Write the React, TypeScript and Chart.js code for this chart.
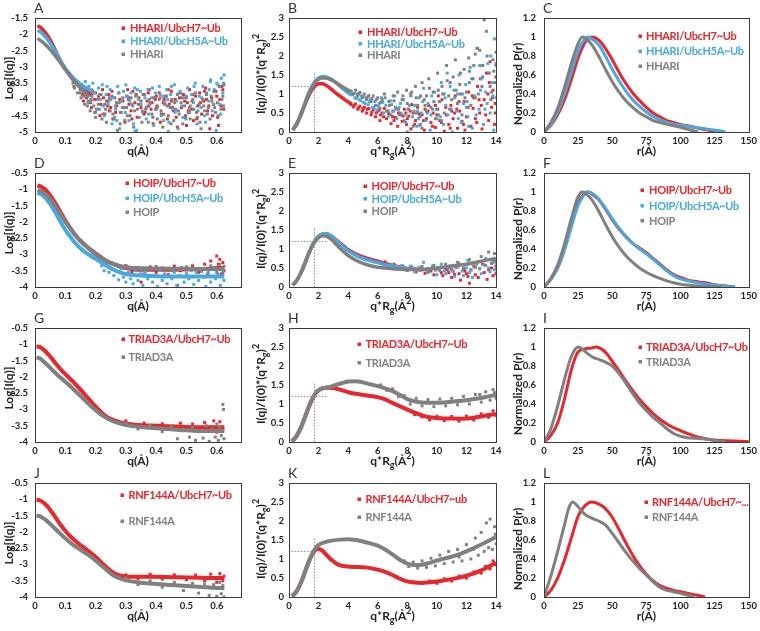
import React, { useEffect, useRef } from "react";
import { Chart, registerables } from "chart.js";
Chart.register(...registerables);

const FAMILY = "Lato, 'Open Sans', sans-serif";
const RED = "#e8262b";
const BLUE = "#47a9e1";
const GRAY = "#808080";
const INK = "#222222";

type P = number[][];

// ---------- Panel A : HHARI log I(q) ----------
const A_labels = ["HHARI/UbcH7~Ub", "HHARI/UbcH5A~Ub", "HHARI"];
const A_red: P = [[0.008,-1.74],[0.02,-1.8],[0.03,-1.9],[0.04,-2.02],[0.05,-2.17],[0.06,-2.35],[0.07,-2.55],[0.08,-2.74],[0.09,-2.92],[0.1,-3.07],[0.11,-3.2],[0.12,-3.32],[0.13,-3.43],[0.14,-3.53],[0.15,-3.62],[0.17,-3.76],[0.19,-3.88]];
const A_blue: P = [[0.008,-1.88],[0.02,-1.94],[0.03,-2.03],[0.04,-2.14],[0.05,-2.27],[0.06,-2.42],[0.07,-2.58],[0.08,-2.74],[0.09,-2.9],[0.1,-3.04],[0.11,-3.16],[0.12,-3.27],[0.13,-3.37],[0.14,-3.45],[0.15,-3.52],[0.17,-3.65],[0.19,-3.76]];
const A_gray: P = [[0.008,-2.13],[0.02,-2.2],[0.03,-2.28],[0.04,-2.37],[0.05,-2.47],[0.06,-2.58],[0.07,-2.7],[0.08,-2.82],[0.09,-2.95],[0.1,-3.08],[0.11,-3.2],[0.12,-3.33],[0.14,-3.55],[0.16,-3.75],[0.18,-3.92]];
const A_redPts: P = [[0.15,-3.7],[0.157,-3.85],[0.163,-3.65],[0.17,-3.95],[0.177,-3.8],[0.183,-4.1],[0.19,-3.75],[0.197,-4.0],[0.203,-4.3],[0.21,-3.9],[0.217,-4.15],[0.223,-3.7],[0.23,-4.45],[0.237,-4.05],[0.243,-3.85],[0.25,-4.25],[0.257,-4.6],[0.263,-3.95],[0.27,-4.2],[0.277,-3.8],[0.283,-4.4],[0.29,-4.05],[0.297,-4.7],[0.303,-3.9],[0.31,-4.15],[0.317,-4.35],[0.323,-3.75],[0.33,-4.1],[0.337,-4.55],[0.343,-3.95],[0.35,-4.25],[0.357,-3.85],[0.363,-4.4],[0.37,-4.05],[0.377,-3.7],[0.383,-4.3],[0.39,-4.75],[0.397,-4.0],[0.403,-4.2],[0.41,-3.8],[0.417,-4.45],[0.423,-4.1],[0.43,-3.9],[0.437,-4.6],[0.443,-4.15],[0.45,-3.75],[0.457,-4.35],[0.463,-4.0],[0.47,-4.85],[0.477,-3.95],[0.483,-4.25],[0.49,-3.85],[0.497,-4.5],[0.503,-4.1],[0.51,-3.7],[0.517,-4.3],[0.523,-4.65],[0.53,-3.9],[0.537,-4.2],[0.543,-3.8],[0.55,-4.45],[0.557,-4.05],[0.563,-3.65],[0.57,-4.35],[0.577,-4.9],[0.583,-3.95],[0.59,-4.15],[0.597,-3.75],[0.603,-4.55],[0.61,-4.0],[0.617,-3.6],[0.623,-4.3],
  [0.16,-4.05],[0.172,-3.7],[0.186,-4.25],[0.2,-3.8],[0.214,-4.5],[0.226,-3.95],[0.24,-4.2],[0.254,-3.75],[0.266,-4.4],[0.28,-4.0],[0.294,-4.25],[0.306,-3.7],[0.32,-4.6],[0.334,-3.85],[0.346,-4.15],[0.36,-4.45],[0.374,-3.8],[0.386,-4.1],[0.4,-3.9],[0.414,-4.7],[0.426,-4.0],[0.44,-3.7],[0.454,-4.25],[0.466,-4.55],[0.48,-3.8],[0.494,-4.05],[0.506,-4.35],[0.52,-3.85],[0.534,-4.6],[0.546,-4.1],[0.56,-3.75],[0.574,-4.2],[0.586,-4.5],[0.6,-3.9],[0.614,-4.2],[0.62,-3.7],[0.606,-4.8],[0.566,-4.0],[0.5,-4.8],[0.45,-4.05],[0.375,-4.2],[0.31,-3.95],[0.245,-4.35]];
const A_bluePts: P = [[0.155,-3.55],[0.16,-3.75],[0.166,-3.45],[0.172,-3.9],[0.178,-3.6],[0.185,-4.05],[0.191,-3.5],[0.197,-3.8],[0.204,-4.3],[0.21,-3.65],[0.216,-4.0],[0.222,-3.55],[0.229,-4.5],[0.235,-3.85],[0.241,-4.15],[0.248,-3.7],[0.254,-4.75],[0.26,-3.95],[0.266,-4.3],[0.273,-3.6],[0.279,-4.9],[0.285,-4.05],[0.292,-3.75],[0.298,-4.4],[0.304,-3.9],[0.31,-4.65],[0.317,-3.8],[0.323,-4.2],[0.329,-3.65],[0.335,-4.95],[0.342,-4.0],[0.348,-3.75],[0.354,-4.35],[0.36,-3.85],[0.367,-4.6],[0.373,-3.7],[0.379,-4.15],[0.385,-3.95],[0.392,-4.8],[0.398,-3.8],[0.404,-4.25],[0.41,-3.6],[0.417,-4.5],[0.423,-3.9],[0.429,-4.1],[0.435,-3.7],[0.442,-4.7],[0.448,-3.85],[0.454,-4.3],[0.46,-3.55],[0.467,-4.05],[0.473,-4.9],[0.479,-3.75],[0.485,-4.2],[0.492,-3.95],[0.498,-4.6],[0.504,-3.65],[0.51,-4.4],[0.517,-3.85],[0.523,-4.1],[0.529,-3.5],[0.535,-4.75],[0.542,-3.9],[0.548,-4.25],[0.554,-3.6],[0.56,-4.5],[0.567,-3.8],[0.573,-4.05],[0.579,-3.45],[0.585,-4.35],[0.592,-3.7],[0.598,-4.95],[0.604,-3.55],[0.61,-4.15],[0.615,-3.35],[0.62,-3.8],[0.624,-3.25],
  [0.163,-3.65],[0.175,-4.1],[0.188,-3.7],[0.2,-4.4],[0.213,-3.85],[0.225,-4.2],[0.238,-3.6],[0.25,-4.0],[0.263,-4.55],[0.275,-3.8],[0.288,-4.25],[0.3,-3.55],[0.313,-4.05],[0.325,-4.75],[0.338,-3.7],[0.35,-4.15],[0.363,-3.95],[0.375,-4.45],[0.388,-3.65],[0.4,-4.3],[0.413,-3.85],[0.425,-4.65],[0.438,-4.0],[0.45,-3.6],[0.463,-4.4],[0.475,-3.8],[0.488,-4.55],[0.5,-3.9],[0.513,-4.2],[0.525,-3.6],[0.538,-4.35],[0.55,-3.95],[0.563,-4.7],[0.575,-3.7],[0.588,-4.15],[0.6,-3.5],[0.613,-4.45],[0.622,-3.5],[0.58,-3.4],[0.61,-3.6],[0.33,-4.98],[0.44,-4.98],[0.27,-4.65]];
const A_grayPts: P = [[0.125,-3.5],[0.13,-3.65],[0.135,-3.45],[0.14,-3.8],[0.146,-3.6],[0.152,-3.95],[0.158,-3.7],[0.164,-4.15],[0.17,-3.85],[0.176,-4.05],[0.182,-4.35],[0.188,-3.9],[0.194,-4.2],[0.2,-4.55],[0.206,-4.0],[0.212,-4.3],[0.218,-3.85],[0.224,-4.45],[0.23,-4.15],[0.236,-4.7],[0.242,-4.05],[0.248,-4.35],[0.254,-3.9],[0.26,-4.6],[0.266,-4.2],[0.272,-4.95],[0.278,-4.1],[0.284,-4.4],[0.29,-3.95],[0.296,-4.65],[0.302,-4.25],[0.308,-4.0],[0.314,-4.5],[0.32,-4.15],[0.326,-4.85],[0.332,-3.9],[0.338,-4.3],[0.344,-4.55],[0.35,-4.05],[0.356,-4.4],[0.362,-3.85],[0.368,-4.25],[0.374,-4.7],[0.38,-4.1],[0.386,-4.45],[0.392,-3.95],[0.398,-4.3],[0.404,-4.6],[0.41,-4.0],[0.416,-4.35],[0.422,-4.85],[0.428,-4.15],[0.434,-3.9],[0.44,-4.5],[0.446,-4.25],[0.452,-4.0],[0.458,-4.65],[0.464,-4.3],[0.47,-3.85],[0.476,-4.45],[0.482,-4.1],[0.488,-4.75],[0.494,-4.2],[0.5,-3.95],[0.506,-4.4],[0.512,-4.6],[0.518,-4.05],[0.524,-4.3],[0.53,-3.8],[0.536,-4.55],[0.542,-4.15],[0.548,-4.9],[0.554,-4.0],[0.56,-4.35],[0.566,-3.85],[0.572,-4.25],[0.578,-4.6],[0.584,-4.05],[0.59,-3.75],[0.596,-4.4],[0.602,-4.1],[0.608,-3.6],[0.614,-4.3],[0.62,-3.9],[0.624,-3.55],
  [0.128,-3.6],[0.138,-3.55],[0.149,-3.8],[0.161,-3.9],[0.173,-4.2],[0.185,-4.0],[0.197,-4.4],[0.209,-4.15],[0.221,-4.6],[0.233,-4.3],[0.245,-3.95],[0.257,-4.45],[0.269,-4.1],[0.281,-4.75],[0.293,-4.25],[0.305,-4.5],[0.317,-3.95],[0.329,-4.35],[0.341,-4.15],[0.353,-4.7],[0.365,-4.3],[0.377,-4.0],[0.389,-4.55],[0.401,-4.25],[0.413,-3.95],[0.425,-4.45],[0.437,-4.2],[0.449,-4.75],[0.461,-4.1],[0.473,-4.35],[0.485,-3.95],[0.497,-4.55],[0.509,-4.25],[0.521,-4.0],[0.533,-4.4],[0.545,-4.7],[0.557,-4.2],[0.569,-4.45],[0.581,-3.9],[0.593,-4.25],[0.605,-4.5],[0.617,-4.0],[0.622,-4.2]];

// ---------- Panel B : HHARI Kratky ----------
const B_red: P = [[0.25,0.05],[0.5,0.19],[0.75,0.4],[1.0,0.64],[1.25,0.88],[1.5,1.08],[1.75,1.21],[2.0,1.27],[2.25,1.27],[2.5,1.23],[2.75,1.16],[3.0,1.08],[3.25,1.0],[3.5,0.93],[3.75,0.86],[4.0,0.79],[4.25,0.73]];
const B_blue: P = [[0.25,0.06],[0.5,0.2],[0.75,0.42],[1.0,0.68],[1.25,0.95],[1.5,1.17],[1.75,1.32],[2.0,1.42],[2.25,1.46],[2.5,1.45],[2.75,1.41],[3.0,1.35],[3.25,1.27],[3.5,1.19],[3.75,1.11],[4.0,1.03],[4.25,0.97]];
const B_gray: P = [[0.25,0.06],[0.5,0.2],[0.75,0.41],[1.0,0.66],[1.25,0.92],[1.5,1.14],[1.75,1.3],[2.0,1.39],[2.25,1.42],[2.5,1.42],[2.75,1.39],[3.0,1.34],[3.25,1.28],[3.5,1.22],[3.75,1.16],[4.0,1.1],[4.25,1.05]];
const B_redPts: P = [[4.2,0.72],[4.35,0.66],[4.5,0.74],[4.65,0.6],[4.8,0.68],[4.95,0.55],[5.1,0.65],[5.25,0.5],[5.4,0.62],[5.55,0.45],[5.7,0.58],[5.85,0.4],[6.0,0.55],[6.15,0.3],[6.3,0.5],[6.45,0.62],[6.6,0.35],[6.75,0.48],[6.9,0.22],[7.05,0.55],[7.2,0.38],[7.35,0.15],[7.5,0.45],[7.65,0.28],[7.8,0.6],[7.95,0.2],[8.1,0.42],[8.25,0.08],[8.4,0.5],[8.55,0.3],[8.7,0.65],[8.85,0.18],[9.0,0.45],[9.15,0.05],[9.3,0.35],[9.45,0.7],[9.6,0.25],[9.75,0.5],[9.9,0.12],[10.05,0.6],[10.2,0.3],[10.35,0.85],[10.5,0.02],[10.65,0.45],[10.8,0.2],[10.95,0.7],[11.1,0.35],[11.25,0.95],[11.4,0.1],[11.55,0.55],[11.7,0.28],[11.85,0.8],[12.0,0.4],[12.15,1.05],[12.3,0.15],[12.45,0.62],[12.6,0.35],[12.75,1.2],[12.9,0.5],[13.05,0.08],[13.2,0.85],[13.35,1.55],[13.5,0.3],[13.6,1.85],[13.7,0.65],[13.8,1.1],[13.9,0.2],[14.0,1.45],[13.95,0.75],[13.45,1.0],[12.95,1.4],[12.5,0.9],[11.9,0.05],[11.0,0.55],[10.1,0.95],[9.2,0.6],[8.3,0.72],[6.2,0.45],[5.0,0.62],[7.0,0.4],
  [4.4,0.7],[4.7,0.64],[5.0,0.58],[5.3,0.6],[5.6,0.52],[5.9,0.5],[6.1,0.58],[6.4,0.4],[6.7,0.55],[7.1,0.3],[7.4,0.5],[7.7,0.42],[8.0,0.35],[8.2,0.55],[8.5,0.2],[8.8,0.48],[9.1,0.3],[9.4,0.55],[9.7,0.15],[10.0,0.45],[10.3,0.25],[10.6,0.65],[10.9,0.1],[11.2,0.5],[11.5,0.8],[11.8,0.2],[12.1,0.65],[12.4,0.95],[12.7,0.25],[13.0,0.7],[13.3,0.45],[13.55,1.3],[13.75,0.9],[13.95,0.5],[12.85,0.85],[11.35,0.6],[9.9,0.7],[7.9,0.5]];
const B_bluePts: P = [[4.3,0.98],[4.45,0.9],[4.6,1.0],[4.75,0.85],[4.9,0.95],[5.05,0.78],[5.2,0.9],[5.35,0.72],[5.5,0.86],[5.65,0.65],[5.8,0.8],[5.95,0.58],[6.1,0.75],[6.25,0.9],[6.4,0.5],[6.55,0.7],[6.7,0.4],[6.85,0.82],[7.0,0.55],[7.15,0.95],[7.3,0.35],[7.45,0.65],[7.6,0.48],[7.75,0.85],[7.9,0.25],[8.05,0.6],[8.2,1.0],[8.35,0.4],[8.5,0.7],[8.65,0.15],[8.8,0.9],[8.95,0.5],[9.1,1.15],[9.25,0.3],[9.4,0.75],[9.55,0.05],[9.7,0.6],[9.85,1.05],[10.0,0.35],[10.15,0.8],[10.3,1.3],[10.45,0.2],[10.6,0.7],[10.75,0.45],[10.9,1.2],[11.05,0.0],[11.2,0.9],[11.35,0.55],[11.5,1.5],[11.65,0.25],[11.8,0.75],[11.95,1.25],[12.1,0.4],[12.25,1.7],[12.4,0.1],[12.55,0.95],[12.7,2.2],[12.85,0.6],[13.0,1.4],[13.15,0.2],[13.3,1.05],[13.45,1.8],[13.6,0.5],[13.75,1.3],[13.9,2.45],[14.0,0.9],[13.85,0.05],[13.4,0.75],[12.9,1.75],[12.0,0.65],[11.4,1.0],[10.5,1.0],[9.6,0.45],[8.7,0.55],
  [4.55,0.88],[4.85,0.82],[5.15,0.75],[5.45,0.8],[5.75,0.62],[6.05,0.68],[6.35,0.78],[6.65,0.55],[6.95,0.72],[7.25,0.6],[7.55,0.75],[7.85,0.45],[8.15,0.7],[8.45,0.55],[8.75,0.35],[9.05,0.8],[9.35,0.5],[9.65,0.95],[9.95,0.6],[10.25,0.4],[10.55,0.9],[10.85,0.6],[11.15,1.1],[11.45,0.35],[11.75,1.0],[12.05,0.8],[12.35,1.4],[12.65,0.45],[12.95,1.1],[13.25,0.6],[13.55,1.55],[13.8,0.95],[14.0,1.8],[13.65,2.0],[12.15,0.15],[10.7,1.55],[8.9,0.2]];
const B_grayPts: P = [[4.2,1.08],[4.35,1.0],[4.5,1.1],[4.65,0.95],[4.8,1.04],[4.95,0.9],[5.1,1.0],[5.25,0.85],[5.4,0.96],[5.55,0.8],[5.7,0.95],[5.85,0.7],[6.0,0.9],[6.15,0.62],[6.3,0.85],[6.45,1.0],[6.6,0.55],[6.75,0.8],[6.9,0.45],[7.05,0.95],[7.2,0.65],[7.35,1.05],[7.5,0.5],[7.65,0.85],[7.8,0.3],[7.95,1.1],[8.1,0.6],[8.25,0.95],[8.4,0.15],[8.55,1.2],[8.7,0.7],[8.85,0.4],[9.0,1.3],[9.15,0.85],[9.3,0.55],[9.45,1.4],[9.6,0.65],[9.75,1.05],[9.9,0.35],[10.05,1.55],[10.2,0.8],[10.35,1.2],[10.5,0.5],[10.65,1.75],[10.8,0.95],[10.95,0.6],[11.1,1.45],[11.25,1.9],[11.4,0.75],[11.55,1.25],[11.7,0.45],[11.85,1.65],[12.0,1.05],[12.15,1.95],[12.3,0.7],[12.45,1.4],[12.6,0.9],[12.75,2.2],[12.9,2.15],[13.05,1.2],[13.2,2.95],[13.35,2.65],[13.5,1.55],[13.65,0.85],[13.8,1.9],[13.95,1.3],[14.0,2.1],[13.7,1.05],[13.1,1.75],[12.2,1.6],[11.6,1.0],[10.9,1.3],[10.1,1.1],[9.3,0.95],[8.6,0.9],[8.0,0.0],
  [4.4,1.02],[4.7,1.0],[5.0,0.93],[5.3,0.92],[5.6,0.88],[5.9,0.85],[6.2,0.78],[6.5,0.9],[6.8,0.7],[7.1,0.82],[7.4,0.6],[7.7,0.95],[8.0,0.75],[8.3,1.05],[8.6,0.5],[8.9,0.95],[9.2,0.7],[9.5,1.15],[9.8,0.8],[10.1,0.45],[10.4,1.0],[10.7,1.35],[11.0,0.85],[11.3,1.1],[11.6,1.55],[11.9,0.9],[12.2,1.3],[12.5,1.75],[12.8,1.0],[13.1,1.45],[13.4,2.0],[13.6,1.2],[13.85,1.6],[14.0,1.75],[12.6,2.05],[9.0,0.1],[10.3,0.3]];

// ---------- Panel C : HHARI P(r) ----------
const C_red: P = [[0,0],[5,0.07],[10,0.18],[15,0.34],[20,0.55],[25,0.78],[30,0.94],[35,1.0],[40,0.97],[45,0.88],[50,0.76],[55,0.63],[60,0.51],[65,0.41],[70,0.33],[75,0.26],[80,0.2],[85,0.16],[90,0.12],[95,0.1],[100,0.08],[105,0.065],[110,0.05],[115,0.035],[120,0.02],[125,0.01],[128,0]];
const C_blue: P = [[0,0],[5,0.08],[10,0.21],[15,0.4],[20,0.63],[25,0.85],[30,0.98],[32,1.0],[35,0.98],[40,0.92],[45,0.8],[50,0.66],[55,0.54],[60,0.43],[65,0.34],[70,0.27],[75,0.21],[80,0.16],[85,0.13],[90,0.1],[95,0.085],[100,0.07],[105,0.06],[110,0.05],[115,0.04],[120,0.03],[125,0.02],[130,0.01],[133,0]];
const C_gray: P = [[0,0],[5,0.1],[10,0.25],[15,0.47],[20,0.72],[25,0.93],[28,1.0],[30,0.99],[35,0.92],[40,0.8],[45,0.66],[50,0.53],[55,0.42],[60,0.33],[65,0.26],[70,0.2],[75,0.16],[80,0.12],[85,0.1],[90,0.08],[95,0.065],[100,0.05],[105,0.03],[110,0.01],[113,0]];

// ---------- Panel D : HOIP log I(q) ----------
const D_labels = ["HOIP/UbcH7~Ub", "HOIP/UbcH5A~Ub", "HOIP"];
const D_red: P = [[0.008,-0.88],[0.02,-0.92],[0.03,-0.98],[0.04,-1.07],[0.05,-1.18],[0.06,-1.32],[0.07,-1.47],[0.08,-1.63],[0.09,-1.8],[0.1,-1.96],[0.11,-2.1],[0.12,-2.24],[0.13,-2.37],[0.14,-2.48],[0.15,-2.58],[0.16,-2.67],[0.17,-2.75],[0.18,-2.83],[0.19,-2.9],[0.2,-2.97],[0.22,-3.1],[0.24,-3.22],[0.26,-3.3],[0.28,-3.37],[0.3,-3.42],[0.33,-3.46],[0.36,-3.47],[0.4,-3.47],[0.45,-3.47],[0.5,-3.46],[0.55,-3.45],[0.6,-3.42],[0.625,-3.42]];
const D_blue: P = [[0.008,-1.11],[0.02,-1.15],[0.03,-1.22],[0.04,-1.32],[0.05,-1.45],[0.06,-1.6],[0.07,-1.76],[0.08,-1.93],[0.09,-2.09],[0.1,-2.24],[0.11,-2.38],[0.12,-2.5],[0.13,-2.62],[0.14,-2.72],[0.15,-2.81],[0.16,-2.89],[0.17,-2.96],[0.18,-3.02],[0.19,-3.08],[0.2,-3.13],[0.22,-3.25],[0.24,-3.37],[0.26,-3.47],[0.28,-3.55],[0.3,-3.6],[0.35,-3.65],[0.4,-3.67],[0.5,-3.68],[0.6,-3.68],[0.625,-3.68]];
const D_gray: P = [[0.008,-1.03],[0.02,-1.06],[0.03,-1.11],[0.04,-1.19],[0.05,-1.29],[0.06,-1.41],[0.07,-1.55],[0.08,-1.7],[0.09,-1.85],[0.1,-1.99],[0.11,-2.12],[0.12,-2.25],[0.13,-2.37],[0.14,-2.48],[0.15,-2.58],[0.16,-2.67],[0.17,-2.76],[0.18,-2.84],[0.19,-2.92],[0.2,-2.99],[0.22,-3.12],[0.24,-3.22],[0.26,-3.3],[0.28,-3.35],[0.3,-3.39],[0.33,-3.42],[0.4,-3.43],[0.5,-3.44],[0.6,-3.45],[0.625,-3.45]];
const D_redPts: P = [[0.3,-3.35],[0.32,-3.55],[0.34,-3.4],[0.36,-3.6],[0.38,-3.38],[0.4,-3.55],[0.42,-3.42],[0.44,-3.62],[0.46,-3.36],[0.48,-3.5],[0.5,-3.6],[0.52,-3.35],[0.54,-3.55],[0.56,-3.3],[0.57,-3.6],[0.58,-3.2],[0.59,-3.45],[0.6,-3.05],[0.605,-3.3],[0.61,-3.15],[0.615,-3.6],[0.62,-3.25],[0.624,-3.5],[0.47,-3.95],[0.35,-3.85]];
const D_bluePts: P = [[0.22,-3.35],[0.228,-3.5],[0.236,-3.3],[0.244,-3.55],[0.252,-3.42],[0.26,-3.65],[0.268,-3.5],[0.276,-3.78],[0.284,-3.45],[0.292,-3.7],[0.3,-3.85],[0.308,-3.55],[0.316,-3.75],[0.324,-3.9],[0.332,-3.5],[0.34,-3.8],[0.348,-3.6],[0.356,-3.95],[0.364,-3.55],[0.372,-3.75],[0.38,-3.45],[0.388,-3.85],[0.396,-3.65],[0.404,-3.98],[0.412,-3.5],[0.42,-3.8],[0.428,-3.6],[0.436,-3.9],[0.444,-3.45],[0.452,-3.75],[0.46,-3.55],[0.468,-3.95],[0.476,-3.65],[0.484,-3.4],[0.492,-3.85],[0.5,-3.6],[0.508,-3.75],[0.516,-3.5],[0.524,-3.92],[0.532,-3.55],[0.54,-3.8],[0.548,-3.45],[0.556,-3.7],[0.564,-3.98],[0.572,-3.55],[0.58,-3.85],[0.588,-3.4],[0.596,-3.75],[0.604,-3.6],[0.612,-3.95],[0.62,-3.5],[0.624,-3.8]];
const D_grayPts: P = [[0.3,-3.34],[0.35,-3.5],[0.4,-3.37],[0.45,-3.5],[0.5,-3.38],[0.55,-3.52],[0.58,-3.35],[0.6,-3.55],[0.61,-3.3],[0.62,-3.58],[0.624,-3.36]];

// ---------- Panel E : HOIP Kratky ----------
const E_red: P = [[0.25,0.05],[0.5,0.16],[0.75,0.33],[1.0,0.55],[1.25,0.8],[1.5,1.03],[1.75,1.21],[2.0,1.33],[2.25,1.39],[2.5,1.4],[2.75,1.37],[3.0,1.3],[3.25,1.22],[3.5,1.14],[3.75,1.06],[4.0,0.98],[4.5,0.87],[5.0,0.79],[5.5,0.73],[6.0,0.68],[6.5,0.62],[7.0,0.57],[7.5,0.53],[8.0,0.49],[8.5,0.47],[9.0,0.45]];
const E_blue: P = [[0.25,0.05],[0.5,0.16],[0.75,0.34],[1.0,0.56],[1.25,0.81],[1.5,1.04],[1.75,1.22],[2.0,1.34],[2.25,1.4],[2.5,1.41],[2.75,1.37],[3.0,1.3],[3.25,1.21],[3.5,1.12],[3.75,1.03],[4.0,0.95],[4.5,0.84],[5.0,0.75],[5.5,0.69],[6.0,0.64],[6.5,0.59],[7.0,0.55],[7.5,0.52],[8.0,0.49],[8.5,0.47],[9.0,0.46],[9.5,0.46]];
const E_gray: P = [[0.25,0.05],[0.5,0.15],[0.75,0.32],[1.0,0.54],[1.25,0.79],[1.5,1.02],[1.75,1.19],[2.0,1.3],[2.25,1.35],[2.5,1.34],[2.75,1.29],[3.0,1.2],[3.25,1.1],[3.5,1.0],[3.75,0.91],[4.0,0.83],[4.5,0.71],[5.0,0.62],[5.5,0.56],[6.0,0.52],[6.5,0.5],[7.0,0.48],[7.5,0.47],[8.0,0.46],[9,0.46],[10,0.5],[11,0.55],[12,0.6],[13,0.68],[14,0.75]];
const E_redPts: P = [[6.5,0.66],[6.8,0.56],[7.1,0.6],[7.4,0.5],[7.7,0.55],[8.0,0.44],[8.3,0.52],[8.6,0.4],[8.9,0.5],[9.2,0.36],[9.4,0.48],[9.6,0.42],[9.8,0.32],[10.0,0.47],[10.1,0.5],[10.3,0.38],[10.4,0.3],[10.6,0.46],[10.7,0.45],[10.8,0.38],[11.0,0.25],[11.1,0.42],[11.3,0.52],[11.5,0.35],[11.6,0.18],[11.8,0.46],[11.9,0.42],[12.0,0.35],[12.2,0.1],[12.3,0.45],[12.5,0.55],[12.6,0.32],[12.8,0.25],[12.9,0.48],[13.1,0.6],[13.2,0.38],[13.4,0.2],[13.5,0.45],[13.7,0.5],[13.8,0.3],[13.9,0.7],[14.0,0.35],[14.0,0.55],[12.1,0.28],[11.2,0.33]];
const E_bluePts: P = [[7.0,0.6],[7.3,0.5],[7.6,0.56],[7.9,0.45],[8.2,0.55],[8.5,0.4],[8.8,0.52],[9.1,0.65],[9.4,0.38],[9.7,0.55],[9.9,0.44],[10.0,0.32],[10.2,0.5],[10.3,0.6],[10.5,0.42],[10.6,0.35],[10.8,0.5],[10.9,0.55],[11.1,0.4],[11.2,0.28],[11.4,0.52],[11.5,0.62],[11.7,0.42],[11.8,0.3],[12.0,0.5],[12.1,0.7],[12.3,0.45],[12.4,0.25],[12.6,0.52],[12.7,0.6],[12.9,0.48],[13.0,0.35],[13.2,0.58],[13.3,0.75],[13.5,0.5],[13.6,0.4],[13.7,0.62],[13.8,0.65],[13.9,0.45],[14.0,0.5],[14.0,0.7],[12.2,0.38],[11.0,0.45]];
const E_grayPts: P = [[9.0,0.54],[9.4,0.4],[9.8,0.57],[10.2,0.43],[10.6,0.6],[11.0,0.47],[11.4,0.65],[11.8,0.5],[12.2,0.72],[12.6,0.52],[13.0,0.8],[13.3,0.57],[13.5,0.92],[13.7,0.62],[13.9,0.88],[14.0,0.65]];

// ---------- Panel F : HOIP P(r) ----------
const F_red: P = [[0,0],[5,0.08],[10,0.2],[15,0.4],[20,0.65],[25,0.88],[30,0.99],[32,1.0],[35,0.98],[40,0.92],[45,0.82],[50,0.71],[55,0.61],[60,0.53],[65,0.46],[70,0.41],[75,0.36],[80,0.3],[85,0.24],[90,0.18],[95,0.13],[100,0.1],[105,0.075],[110,0.06],[115,0.05],[120,0.04],[125,0.025],[130,0.015],[135,0.007],[140,0]];
const F_blue: P = [[0,0],[5,0.08],[10,0.2],[15,0.39],[20,0.63],[25,0.86],[30,0.98],[32,1.0],[35,0.99],[40,0.93],[45,0.83],[50,0.72],[55,0.62],[60,0.53],[65,0.46],[70,0.4],[75,0.35],[80,0.29],[85,0.23],[90,0.17],[95,0.12],[100,0.085],[105,0.065],[110,0.05],[115,0.04],[120,0.03],[125,0.02],[130,0.012],[135,0.005],[140,0]];
const F_gray: P = [[0,0],[5,0.09],[10,0.23],[15,0.45],[20,0.72],[25,0.95],[28,1.0],[30,0.99],[35,0.92],[40,0.8],[45,0.66],[50,0.53],[55,0.42],[60,0.33],[65,0.26],[70,0.2],[75,0.155],[80,0.12],[85,0.09],[90,0.065],[95,0.045],[100,0.03],[105,0.02],[110,0.012],[115,0.007],[120,0.004],[125,0.002],[130,0]];

// ---------- Panel G : TRIAD3A log I(q) ----------
const G_labels = ["TRIAD3A/UbcH7~Ub", "TRIAD3A"];
const G_red: P = [[0.005,-1.06],[0.015,-1.08],[0.025,-1.14],[0.035,-1.22],[0.045,-1.32],[0.055,-1.43],[0.065,-1.55],[0.075,-1.66],[0.085,-1.77],[0.095,-1.87],[0.105,-1.96],[0.115,-2.05],[0.125,-2.14],[0.135,-2.24],[0.145,-2.34],[0.155,-2.44],[0.165,-2.55],[0.175,-2.65],[0.185,-2.76],[0.195,-2.86],[0.205,-2.96],[0.215,-3.05],[0.225,-3.14],[0.235,-3.21],[0.245,-3.27],[0.26,-3.33],[0.28,-3.39],[0.3,-3.43],[0.33,-3.47],[0.36,-3.49],[0.4,-3.5],[0.45,-3.52],[0.5,-3.54],[0.55,-3.55],[0.6,-3.55],[0.625,-3.55]];
const G_gray: P = [[0.005,-1.4],[0.015,-1.43],[0.025,-1.5],[0.035,-1.58],[0.045,-1.67],[0.055,-1.77],[0.065,-1.86],[0.075,-1.95],[0.085,-2.03],[0.095,-2.11],[0.105,-2.19],[0.115,-2.27],[0.125,-2.36],[0.135,-2.45],[0.145,-2.54],[0.155,-2.63],[0.165,-2.72],[0.175,-2.81],[0.185,-2.9],[0.195,-2.98],[0.205,-3.06],[0.215,-3.14],[0.225,-3.2],[0.235,-3.26],[0.245,-3.31],[0.26,-3.37],[0.28,-3.43],[0.3,-3.48],[0.33,-3.52],[0.36,-3.55],[0.4,-3.58],[0.45,-3.61],[0.5,-3.64],[0.55,-3.66],[0.6,-3.66],[0.625,-3.66]];
const G_redPts: P = [[0.3,-3.35],[0.33,-3.52],[0.36,-3.42],[0.39,-3.58],[0.42,-3.44],[0.45,-3.6],[0.48,-3.42],[0.5,-3.62],[0.52,-3.45],[0.54,-3.68],[0.56,-3.4],[0.58,-3.65],[0.59,-3.35],[0.6,-3.7],[0.61,-3.38],[0.62,-3.6]];
const G_grayPts: P = [[0.3,-3.42],[0.34,-3.6],[0.38,-3.5],[0.42,-3.68],[0.45,-3.52],[0.47,-3.9],[0.49,-3.6],[0.51,-3.85],[0.52,-3.55],[0.53,-3.95],[0.545,-3.65],[0.555,-3.88],[0.565,-3.5],[0.575,-3.98],[0.585,-3.6],[0.595,-3.85],[0.6,-3.45],[0.605,-3.95],[0.61,-3.55],[0.615,-3.8],[0.62,-2.85],[0.622,-3.0],[0.624,-3.9]];

// ---------- Panel H : TRIAD3A Kratky ----------
const H_red: P = [[0.2,0.02],[0.5,0.15],[0.75,0.33],[1.0,0.57],[1.25,0.83],[1.5,1.07],[1.75,1.25],[2.0,1.36],[2.25,1.41],[2.5,1.43],[2.75,1.43],[3.0,1.42],[3.5,1.37],[4.0,1.31],[4.5,1.27],[5.0,1.24],[5.5,1.21],[6.0,1.18],[6.5,1.12],[7.0,1.03],[7.5,0.94],[8.0,0.85],[8.5,0.77],[9.0,0.7],[9.5,0.65],[10,0.63],[10.5,0.62],[11,0.62],[11.5,0.61],[12,0.62],[12.5,0.64],[13,0.67],[13.5,0.71],[14,0.74]];
const H_gray: P = [[0.2,0.02],[0.5,0.15],[0.75,0.33],[1.0,0.57],[1.25,0.83],[1.5,1.07],[1.75,1.25],[2.0,1.36],[2.25,1.41],[2.5,1.43],[2.75,1.45],[3.0,1.48],[3.5,1.54],[4.0,1.59],[4.5,1.6],[5.0,1.57],[5.5,1.52],[6.0,1.47],[6.5,1.41],[7.0,1.34],[7.5,1.24],[8.0,1.13],[8.5,1.07],[9.0,1.04],[9.5,1.03],[10,1.03],[10.5,1.04],[11,1.06],[11.5,1.08],[12,1.1],[12.5,1.13],[13,1.16],[13.5,1.2],[14,1.24]];
const H_redPts: P = [[8.5,0.72],[9.0,0.66],[9.5,0.58],[10,0.68],[10.5,0.56],[11,0.67],[11.5,0.55],[12,0.68],[12.5,0.58],[13,0.74],[13.5,0.65],[13.8,0.82],[14,0.7]];
const H_grayPts: P = [[6.2,1.5],[6.6,1.36],[7.0,1.4],[7.4,1.2],[7.8,1.22],[8.2,1.0],[8.6,1.15],[9.0,0.95],[9.4,1.12],[9.8,0.93],[10.2,1.13],[10.6,0.95],[11.0,1.15],[11.4,0.98],[11.8,1.2],[12.2,1.0],[12.6,1.25],[13.0,1.05],[13.3,1.32],[13.6,1.1],[13.8,1.38],[14.0,1.15],[13.9,1.3],[12.9,1.25]];

// ---------- Panel I : TRIAD3A P(r) ----------
const I_red: P = [[0,0],[5,0.07],[10,0.2],[15,0.45],[20,0.76],[25,0.95],[30,0.98],[35,0.99],[38,1.0],[42,0.98],[46,0.93],[50,0.85],[55,0.75],[60,0.64],[65,0.54],[70,0.45],[75,0.37],[80,0.3],[85,0.24],[90,0.19],[95,0.15],[100,0.12],[105,0.09],[110,0.065],[115,0.045],[120,0.03],[125,0.02],[130,0.015],[135,0.012],[140,0.01],[145,0.007],[150,0.004]];
const I_gray: P = [[0,0],[5,0.14],[10,0.38],[15,0.66],[20,0.9],[25,1.0],[28,0.98],[32,0.93],[36,0.89],[40,0.87],[45,0.84],[50,0.8],[55,0.72],[60,0.62],[65,0.51],[70,0.41],[75,0.33],[80,0.26],[85,0.2],[90,0.14],[95,0.09],[100,0.06],[105,0.045],[110,0.04],[115,0.035],[120,0.028],[125,0.015],[130,0.005],[133,0]];

// ---------- Panel J : RNF144A log I(q) ----------
const J_labels = ["RNF144A/UbcH7~Ub", "RNF144A"];
const J_red: P = [[0.005,-1.01],[0.015,-1.03],[0.025,-1.08],[0.035,-1.16],[0.045,-1.26],[0.055,-1.39],[0.065,-1.52],[0.075,-1.66],[0.085,-1.79],[0.095,-1.91],[0.105,-2.02],[0.115,-2.12],[0.125,-2.21],[0.135,-2.29],[0.145,-2.37],[0.155,-2.44],[0.165,-2.51],[0.175,-2.58],[0.185,-2.65],[0.195,-2.73],[0.205,-2.81],[0.215,-2.9],[0.225,-2.99],[0.235,-3.08],[0.245,-3.16],[0.255,-3.23],[0.265,-3.29],[0.28,-3.34],[0.3,-3.37],[0.35,-3.38],[0.4,-3.38],[0.45,-3.39],[0.5,-3.4],[0.55,-3.41],[0.6,-3.42],[0.625,-3.42]];
const J_gray: P = [[0.005,-1.5],[0.015,-1.52],[0.025,-1.57],[0.035,-1.63],[0.045,-1.71],[0.055,-1.8],[0.065,-1.89],[0.075,-1.98],[0.085,-2.07],[0.095,-2.16],[0.105,-2.24],[0.115,-2.32],[0.125,-2.39],[0.135,-2.46],[0.145,-2.52],[0.155,-2.58],[0.165,-2.64],[0.175,-2.7],[0.185,-2.77],[0.195,-2.84],[0.205,-2.92],[0.215,-3.0],[0.225,-3.08],[0.235,-3.16],[0.245,-3.24],[0.255,-3.31],[0.265,-3.37],[0.28,-3.43],[0.3,-3.49],[0.35,-3.56],[0.4,-3.6],[0.45,-3.63],[0.5,-3.66],[0.55,-3.69],[0.6,-3.72],[0.625,-3.73]];
const J_redPts: P = [[0.3,-3.32],[0.34,-3.44],[0.38,-3.3],[0.42,-3.45],[0.46,-3.32],[0.5,-3.47],[0.53,-3.33],[0.56,-3.5],[0.58,-3.3],[0.6,-3.55],[0.61,-3.28],[0.62,-3.5],[0.624,-3.36]];
const J_grayPts: P = [[0.3,-3.42],[0.34,-3.62],[0.38,-3.5],[0.42,-3.7],[0.46,-3.55],[0.49,-3.8],[0.52,-3.58],[0.54,-3.88],[0.56,-3.6],[0.575,-3.95],[0.59,-3.62],[0.6,-3.98],[0.61,-3.55],[0.615,-3.9],[0.62,-3.65],[0.624,-4.0]];

// ---------- Panel K : RNF144A Kratky ----------
const K_labels = ["RNF144A/UbcH7~ub", "RNF144A"];
const K_red: P = [[0.2,0.02],[0.5,0.14],[0.75,0.33],[1.0,0.57],[1.25,0.84],[1.5,1.07],[1.75,1.22],[2.0,1.26],[2.25,1.22],[2.5,1.12],[2.75,1.02],[3.0,0.94],[3.25,0.87],[3.5,0.83],[4.0,0.8],[4.5,0.79],[5.0,0.78],[5.5,0.76],[6.0,0.72],[6.5,0.66],[7.0,0.58],[7.5,0.48],[8.0,0.41],[8.5,0.38],[9.0,0.37],[9.5,0.39],[10,0.41],[10.5,0.44],[11,0.47],[11.5,0.51],[12,0.56],[12.5,0.62],[13,0.7],[13.5,0.8],[14,0.9]];
const K_gray: P = [[0.2,0.02],[0.5,0.14],[0.75,0.33],[1.0,0.57],[1.25,0.84],[1.5,1.08],[1.75,1.26],[2.0,1.37],[2.5,1.45],[3.0,1.49],[3.5,1.51],[4.0,1.52],[4.5,1.5],[5.0,1.46],[5.5,1.41],[6.0,1.35],[6.5,1.25],[7.0,1.12],[7.5,0.98],[8.0,0.88],[8.5,0.84],[9.0,0.85],[9.5,0.9],[10,0.96],[10.5,1.01],[11,1.06],[11.5,1.12],[12,1.2],[12.5,1.29],[13,1.38],[13.5,1.48],[14,1.58]];
const K_redPts: P = [[9.5,0.42],[10,0.36],[10.5,0.48],[11,0.42],[11.5,0.55],[12,0.5],[12.5,0.66],[13,0.63],[13.3,0.8],[13.6,0.74],[13.8,0.95],[14,0.85]];
const K_grayPts: P = [[7.8,0.95],[8.1,0.8],[8.4,0.92],[8.7,0.76],[9.0,0.95],[9.3,0.78],[9.6,1.02],[9.9,0.82],[10.2,1.1],[10.5,0.88],[10.8,1.2],[11.1,0.92],[11.4,1.25],[11.7,0.95],[12.0,1.38],[12.3,1.0],[12.6,1.55],[12.8,1.1],[13.0,1.7],[13.2,1.2],[13.35,1.95],[13.5,1.3],[13.6,2.05],[13.75,1.25],[13.9,1.85],[14.0,1.4],[13.95,1.65],[12.45,1.25],[11.5,1.05]];

// ---------- Panel L : RNF144A P(r) ----------
const L_labels = ["RNF144A/UbcH7~...", "RNF144A"];
const L_red: P = [[0,0],[5,0.07],[10,0.2],[15,0.39],[20,0.62],[25,0.85],[30,0.96],[35,1.0],[40,0.98],[45,0.93],[50,0.84],[55,0.71],[60,0.57],[65,0.44],[70,0.33],[75,0.24],[80,0.17],[85,0.12],[90,0.09],[95,0.07],[100,0.055],[105,0.04],[110,0.025],[115,0.01],[118,0]];
const L_gray: P = [[0,0],[5,0.22],[10,0.48],[15,0.76],[18,0.93],[21,1.0],[25,0.95],[30,0.87],[35,0.83],[40,0.8],[45,0.76],[50,0.67],[55,0.57],[60,0.47],[65,0.38],[70,0.3],[75,0.23],[80,0.16],[85,0.1],[90,0.07],[95,0.055],[100,0.04],[105,0.02],[110,0]];

// Guinier-Kratky reference point (sqrt(3), as drawn)
const refX = [0, 1.73];
const refY = [0, 1.2, 1.57];

type Series = { label: string; color: string; curve: P; pts?: P; width: number };
type Kind = "log" | "kratky" | "pr";
type Cfg = {
  letter: string; row: number; col: number; kind: Kind;
  yMin: number; yMax: number; yStep: number;
  series: Series[];
  legend: { mx: number; tx: number; ys: number[] };
  refEnd?: number;
};

const COL_LEFT = [0, 250, 505];
const COL_W = [250, 255, 255];
const Y_AXIS_W = [35, 39, 39];
const PAD_R = [9, 9, 10];
const TICK_PAD = [7, 5, 8];
const YTITLE_X = [9, 11, 13];
const YTITLE_Y = [78, 74, 84];
const ROW_TOP = 155;
const CANVAS_H = 166;

const panels: Cfg[] = [
  { letter: "A", row: 0, col: 0, kind: "log", yMin: -5, yMax: -1.5, yStep: 0.5,
    series: [
      { label: A_labels[0], color: RED, curve: A_red, pts: A_redPts, width: 3.5 },
      { label: A_labels[1], color: BLUE, curve: A_blue, pts: A_bluePts, width: 3.5 },
      { label: A_labels[2], color: GRAY, curve: A_gray, pts: A_grayPts, width: 3.5 },
    ], legend: { mx: 123, tx: 130, ys: [28, 41, 54] } },
  { letter: "B", row: 0, col: 1, kind: "kratky", yMin: 0, yMax: 3, yStep: 0.5, refEnd: 1.75,
    series: [
      { label: A_labels[0], color: RED, curve: B_red, pts: B_redPts, width: 3.5 },
      { label: A_labels[1], color: BLUE, curve: B_blue, pts: B_bluePts, width: 3.5 },
      { label: A_labels[2], color: GRAY, curve: B_gray, pts: B_grayPts, width: 3.5 },
    ], legend: { mx: 110, tx: 117, ys: [32, 43.5, 55] } },
  { letter: "C", row: 0, col: 2, kind: "pr", yMin: 0, yMax: 1.2, yStep: 0.2,
    series: [
      { label: A_labels[0], color: RED, curve: C_red, width: 3 },
      { label: A_labels[1], color: BLUE, curve: C_blue, width: 3 },
      { label: A_labels[2], color: GRAY, curve: C_gray, width: 3 },
    ], legend: { mx: 135, tx: 141, ys: [36, 51, 66] } },
  { letter: "D", row: 1, col: 0, kind: "log", yMin: -4, yMax: -0.5, yStep: 0.5,
    series: [
      { label: D_labels[0], color: RED, curve: D_red, pts: D_redPts, width: 4 },
      { label: D_labels[1], color: BLUE, curve: D_blue, pts: D_bluePts, width: 4 },
      { label: D_labels[2], color: GRAY, curve: D_gray, pts: D_grayPts, width: 4 },
    ], legend: { mx: 127, tx: 133, ys: [28, 43, 57] } },
  { letter: "E", row: 1, col: 1, kind: "kratky", yMin: 0, yMax: 3, yStep: 0.5, refEnd: 2.55,
    series: [
      { label: D_labels[0], color: RED, curve: E_red, pts: E_redPts, width: 3.5 },
      { label: D_labels[1], color: BLUE, curve: E_blue, pts: E_bluePts, width: 3.5 },
      { label: D_labels[2], color: GRAY, curve: E_gray, pts: E_grayPts, width: 3.5 },
    ], legend: { mx: 115, tx: 121.5, ys: [31, 43.5, 56] } },
  { letter: "F", row: 1, col: 2, kind: "pr", yMin: 0, yMax: 1.2, yStep: 0.2,
    series: [
      { label: D_labels[0], color: RED, curve: F_red, width: 3 },
      { label: D_labels[1], color: BLUE, curve: F_blue, width: 3 },
      { label: D_labels[2], color: GRAY, curve: F_gray, width: 3 },
    ], legend: { mx: 137, tx: 144, ys: [35, 50.5, 65.5] } },
  { letter: "G", row: 2, col: 0, kind: "log", yMin: -4, yMax: -0.5, yStep: 0.5,
    series: [
      { label: G_labels[0], color: RED, curve: G_red, pts: G_redPts, width: 4 },
      { label: G_labels[1], color: GRAY, curve: G_gray, pts: G_grayPts, width: 4 },
    ], legend: { mx: 123, tx: 128.5, ys: [29, 47] } },
  { letter: "H", row: 2, col: 1, kind: "kratky", yMin: 0, yMax: 3, yStep: 0.5, refEnd: 2.55,
    series: [
      { label: G_labels[0], color: RED, curve: H_red, pts: H_redPts, width: 4 },
      { label: G_labels[1], color: GRAY, curve: H_gray, pts: H_grayPts, width: 4 },
    ], legend: { mx: 109, tx: 115.5, ys: [34, 52.5] } },
  { letter: "I", row: 2, col: 2, kind: "pr", yMin: 0, yMax: 1.2, yStep: 0.2,
    series: [
      { label: G_labels[0], color: RED, curve: I_red, width: 3 },
      { label: G_labels[1], color: GRAY, curve: I_gray, width: 3 },
    ], legend: { mx: 135, tx: 141, ys: [37, 51.5] } },
  { letter: "J", row: 3, col: 0, kind: "log", yMin: -4, yMax: -0.5, yStep: 0.5,
    series: [
      { label: J_labels[0], color: RED, curve: J_red, pts: J_redPts, width: 4 },
      { label: J_labels[1], color: GRAY, curve: J_gray, pts: J_grayPts, width: 4 },
    ], legend: { mx: 122, tx: 128.5, ys: [30, 56] } },
  { letter: "K", row: 3, col: 1, kind: "kratky", yMin: 0, yMax: 3, yStep: 0.5, refEnd: 1.65,
    series: [
      { label: K_labels[0], color: RED, curve: K_red, pts: K_redPts, width: 4 },
      { label: K_labels[1], color: GRAY, curve: K_gray, pts: K_grayPts, width: 4 },
    ], legend: { mx: 109, tx: 115.5, ys: [34, 52] } },
  { letter: "L", row: 3, col: 2, kind: "pr", yMin: 0, yMax: 1.2, yStep: 0.2,
    series: [
      { label: L_labels[0], color: RED, curve: L_red, width: 3 },
      { label: L_labels[1], color: GRAY, curve: L_gray, width: 3 },
    ], legend: { mx: 141, tx: 147, ys: [37, 52] } },
];

type Part = { t: string; s?: "sub" | "sup" };
const TITLES: Record<Kind, { x: Part[]; y: Part[] }> = {
  log: { x: [{ t: "q(Å)" }], y: [{ t: "Log[I(q)]" }] },
  kratky: {
    x: [{ t: "q*R" }, { t: "g", s: "sub" }, { t: "(Å" }, { t: "2", s: "sup" }, { t: ")" }],
    y: [{ t: "I(q)/I(0)*(q*R" }, { t: "g", s: "sub" }, { t: ")" }, { t: "2", s: "sup" }],
  },
  pr: { x: [{ t: "r(Å)" }], y: [{ t: "Normalized P(r)" }] },
};

function drawRich(ctx: CanvasRenderingContext2D, parts: Part[], cx: number, cy: number, rot: boolean, size: number) {
  const big = `bold ${size}px ${FAMILY}`;
  const small = `bold ${Math.round(size * 0.72)}px ${FAMILY}`;
  let total = 0;
  const widths = parts.map((p) => {
    ctx.font = p.s ? small : big;
    const w = ctx.measureText(p.t).width;
    total += w;
    return w;
  });
  ctx.save();
  ctx.translate(cx, cy);
  if (rot) ctx.rotate(-Math.PI / 2);
  ctx.textBaseline = "middle";
  ctx.textAlign = "left";
  ctx.fillStyle = INK;
  let x = -total / 2;
  parts.forEach((p, i) => {
    ctx.font = p.s ? small : big;
    const dy = p.s === "sub" ? size * 0.3 : p.s === "sup" ? -size * 0.38 : 0;
    ctx.fillText(p.t, x, dy);
    x += widths[i];
  });
  ctx.restore();
}

const TICK_FONT = { family: FAMILY, size: 9.5, weight: "bold" as const };
const fmtTick = (v: any) => String(Math.round(Number(v) * 100) / 100);

function Panel({ cfg }: { cfg: Cfg }) {
  const ref = useRef<HTMLCanvasElement>(null);
  const w = COL_W[cfg.col];
  useEffect(() => {
    if (!ref.current) return;
    const xr =
      cfg.kind === "log" ? { min: 0, max: 0.68, step: 0.1 } :
      cfg.kind === "kratky" ? { min: 0, max: 14, step: 2 } : { min: 0, max: 150, step: 25 };
    const n = cfg.series.length;
    const datasets: any[] = [];
    cfg.series.forEach((s, i) => {
      const ord = n - i;
      datasets.push({
        label: s.label,
        data: s.curve.map(([x, y]) => ({ x, y })),
        showLine: true,
        borderColor: s.color,
        backgroundColor: s.color,
        borderWidth: s.width,
        pointRadius: 0,
        cubicInterpolationMode: "monotone",
        order: ord,
      });
      if (s.pts) {
        datasets.push({
          label: s.label + " pts",
          data: s.pts.map(([x, y]) => ({ x, y })),
          showLine: false,
          pointStyle: "rect",
          pointRadius: 2.1,
          pointBorderWidth: 0,
          backgroundColor: s.color,
          borderColor: s.color,
          order: ord,
        });
      }
    });
    if (cfg.kind === "kratky" && cfg.refEnd) {
      const dot = { showLine: true, borderColor: "#8a8a8a", borderWidth: 1, borderDash: [1.5, 1.5], pointRadius: 0, order: 10 };
      datasets.push({ ...dot, label: "ref-h", data: [{ x: refX[0], y: refY[1] }, { x: cfg.refEnd, y: refY[1] }] });
      datasets.push({ ...dot, label: "ref-v", data: [{ x: refX[1], y: refY[0] }, { x: refX[1], y: refY[2] }] });
    }
    const col = cfg.col;
    const deco = {
      id: "deco",
      afterDraw(chart: any) {
        const ctx: any = chart.ctx;
        const a = chart.chartArea;
        ctx.save();
        ctx.strokeStyle = "#3a3a3a";
        ctx.lineWidth = 1;
        ctx.strokeRect(Math.round(a.left) + 0.5, Math.round(a.top) + 0.5, Math.round(a.right - a.left), Math.round(a.bottom - a.top));
        ctx.fillStyle = "#333";
        ctx.font = `14px ${FAMILY}`;
        ctx.textBaseline = "middle";
        ctx.textAlign = "left";
        ctx.fillText(cfg.letter, a.left - 1, 8);
        cfg.series.forEach((s, i) => {
          const y = cfg.legend.ys[i];
          ctx.fillStyle = s.color;
          ctx.fillRect(cfg.legend.mx - 1.5, y - 1.5, 3.5, 3.5);
          ctx.font = `bold 11px ${FAMILY}`;
          ctx.letterSpacing = "-0.35px";
          ctx.textBaseline = "middle";
          ctx.fillText(s.label, cfg.legend.tx, y + 0.5);
          ctx.letterSpacing = "0px";
        });
        ctx.restore();
        const t = TITLES[cfg.kind];
        drawRich(ctx, t.x, (a.left + a.right) / 2, 151, false, 12);
        drawRich(ctx, t.y, YTITLE_X[col], YTITLE_Y[col], true, 12);
      },
    };
    const chart = new Chart(ref.current, {
      type: "scatter",
      data: { datasets },
      options: {
        animation: false,
        responsive: false,
        maintainAspectRatio: false,
        events: [],
        layout: { padding: { left: 0, right: PAD_R[col], top: 18, bottom: 0 } },
        plugins: { legend: { display: false }, tooltip: { enabled: false } },
        scales: {
          x: {
            type: "linear", min: xr.min, max: xr.max,
            grid: { display: false, drawTicks: false },
            border: { display: false },
            ticks: { stepSize: xr.step, includeBounds: false, font: TICK_FONT, color: INK, padding: 3, maxRotation: 0, autoSkip: false, callback: fmtTick },
            afterFit: (s: any) => { s.height = CANVAS_H - 132; },
          },
          y: {
            type: "linear", min: cfg.yMin, max: cfg.yMax,
            grid: { display: false, drawTicks: false },
            border: { display: false },
            ticks: { stepSize: cfg.yStep, font: TICK_FONT, color: INK, padding: TICK_PAD[col], autoSkip: false, callback: fmtTick },
            afterFit: (s: any) => { s.width = Y_AXIS_W[col]; },
          },
        },
      },
      plugins: [deco],
    } as any);
    return () => chart.destroy();
  }, []);
  return (
    <canvas
      ref={ref}
      width={w}
      height={CANVAS_H}
      style={{ position: "absolute", left: COL_LEFT[cfg.col], top: cfg.row * ROW_TOP, width: w, height: CANVAS_H }}
    />
  );
}

export default function App() {
  return (
    <div style={{ position: "absolute", left: 0, top: 0, width: 760, height: 631, background: "#ffffff", overflow: "hidden" }}>
      {panels.map((p) => (
        <Panel key={p.letter} cfg={p} />
      ))}
    </div>
  );
}
